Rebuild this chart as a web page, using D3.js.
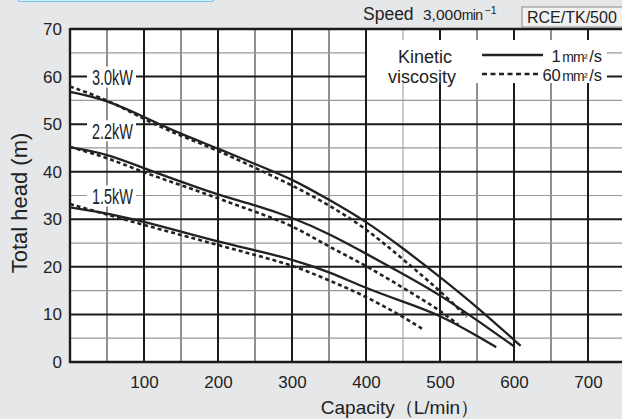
<!DOCTYPE html>
<html>
<head>
<meta charset="utf-8">
<script src="https://cdn.jsdelivr.net/npm/d3@7"></script>
<style>
body{margin:0;background:#e6e7e9}
svg{display:block}
text{font-family:"Liberation Sans",Arial,sans-serif;fill:#222}
</style>
</head>
<body>
<script>
// capacity (L/min) and total head (m)
var q30 = [0, 50, 100, 150, 200, 250, 300, 350, 400, 450, 500, 550, 609];
var h30 = [56.8, 55.1, 51.5, 47.9, 44.9, 41.6, 38.5, 34.1, 29.6, 23.9, 17.9, 11.6, 3.4];
var q30d = [0, 50, 100, 150, 200, 250, 300, 350, 400, 450, 500, 536];
var h30d = [57.9, 55.2, 51.0, 47.5, 44.5, 40.8, 37.2, 33.0, 28.1, 21.6, 15.0, 9.5];

var q22 = [0, 50, 100, 150, 200, 250, 300, 350, 400, 450, 500, 550, 601];
var h22 = [45.1, 43.8, 40.7, 37.9, 35.1, 33.0, 30.4, 27.0, 22.8, 18.5, 14.1, 8.8, 3.2];
var q22d = [0, 50, 100, 150, 200, 250, 300, 350, 400, 450, 500, 525];
var h22d = [45.2, 43.0, 39.8, 37.2, 34.4, 31.6, 28.8, 24.2, 20.3, 15.6, 10.9, 7.8];

var q15 = [0, 50, 100, 150, 200, 250, 300, 350, 400, 450, 500, 550, 576];
var h15 = [32.5, 31.3, 29.5, 27.4, 25.3, 23.5, 21.6, 19.0, 15.5, 12.7, 9.9, 5.5, 3.1];
var q15d = [0, 50, 100, 150, 200, 250, 300, 350, 400, 450, 477];
var h15d = [33.2, 31.0, 28.8, 26.7, 24.6, 22.5, 20.4, 17.2, 13.8, 9.5, 6.9];

var xTicks = [100, 200, 300, 400, 500, 600, 700];
var yTicks = [0, 10, 20, 30, 40, 50, 60, 70];
var kwLabels = [["3.0kW", 60], ["2.2kW", 48.7], ["1.5kW", 35]];
var viscLabels = [["1", 55], ["60", 74]];

var W = 622, H = 419;
var x = d3.scaleLinear().domain([0, 750]).range([70, 625]);
var y = d3.scaleLinear().domain([0, 70]).range([362, 29]);

var svg = d3.select("body").append("svg").attr("width", W).attr("height", H);

// light blue tab at the top
svg.append("rect").attr("x", 18).attr("y", -10).attr("width", 196).attr("height", 11.5)
    .attr("rx", 3).attr("fill", "#d6eefa").attr("stroke", "#6ec1ea").attr("stroke-width", 1.2);

// plot area
svg.append("rect").attr("x", x(0)).attr("y", y(70)).attr("width", x(750) - x(0)).attr("height", y(0) - y(70))
    .attr("fill", "#fff");

var g = svg.append("g");
// minor grid
d3.range(50, 750, 100).forEach(function(v) {
    g.append("line").attr("x1", x(v)).attr("x2", x(v)).attr("y1", y(70)).attr("y2", y(0))
        .attr("stroke", v == 450 ? "#999" : "#222").attr("stroke-width", 1);
});
d3.range(5, 70, 10).forEach(function(v) {
    g.append("line").attr("x1", x(0)).attr("x2", x(750)).attr("y1", y(v)).attr("y2", y(v))
        .attr("stroke", "#9a9a9a").attr("stroke-width", 1.2);
});
// major grid
d3.range(100, 750, 100).forEach(function(v) {
    g.append("line").attr("x1", x(v)).attr("x2", x(v)).attr("y1", y(70)).attr("y2", y(0))
        .attr("stroke", "#1a1a1a").attr("stroke-width", 2);
});
d3.range(10, 71, 10).forEach(function(v) {
    g.append("line").attr("x1", x(0)).attr("x2", x(750)).attr("y1", y(v)).attr("y2", y(v))
        .attr("stroke", "#1a1a1a").attr("stroke-width", v == 70 ? 2.4 : 2);
});
// frame left / bottom
svg.append("line").attr("x1", x(0)).attr("x2", x(0)).attr("y1", y(70) - 1).attr("y2", y(0) + 1)
    .attr("stroke", "#1a1a1a").attr("stroke-width", 2.4);
svg.append("line").attr("x1", x(0) - 1).attr("x2", W).attr("y1", y(0)).attr("y2", y(0))
    .attr("stroke", "#1a1a1a").attr("stroke-width", 2.4);

// axes labels
var xAxis = d3.axisBottom(x).tickValues(xTicks).tickSize(0).tickPadding(14);
svg.append("g").attr("transform", "translate(0," + y(0) + ")").call(xAxis)
    .call(function(s) { s.select(".domain").remove(); })
    .selectAll("text").attr("font-size", 17).attr("fill", "#333").style("font-family", "Liberation Sans, Arial, sans-serif");
var yAxis = d3.axisLeft(y).tickValues(yTicks).tickSize(0).tickPadding(8);
svg.append("g").attr("transform", "translate(" + x(0) + ",0)").call(yAxis)
    .call(function(s) { s.select(".domain").remove(); })
    .selectAll("text").attr("font-size", 17).attr("fill", "#333").style("font-family", "Liberation Sans, Arial, sans-serif");

svg.append("text").attr("x", 400).attr("y", 414).attr("text-anchor", "middle").attr("font-size", 19)
    .text("Capacity（L/min）");
svg.append("text").attr("transform", "translate(27,203) rotate(-90)").attr("text-anchor", "middle")
    .attr("font-size", 22).text("Total head (m)");

// curves
var line = d3.line().x(function(d) { return x(d[0]); }).y(function(d) { return y(d[1]); }).curve(d3.curveBasis);
var curves = [[q30, h30, false], [q30d, h30d, true], [q22, h22, false], [q22d, h22d, true],
              [q15, h15, false], [q15d, h15d, true]];
curves.forEach(function(c) {
    svg.append("path").datum(d3.zip(c[0], c[1])).attr("d", line)
        .attr("fill", "none").attr("stroke", "#222")
        .attr("stroke-width", c[2] ? 2.6 : 2.3)
        .attr("stroke-dasharray", c[2] ? "4,3" : null);
});

// kW labels
kwLabels.forEach(function(k) {
    var cy = y(k[1]);
    svg.append("rect").attr("x", 87).attr("y", cy - 10).attr("width", 49).attr("height", 21).attr("fill", "#fff");
    svg.append("text").attr("x", 92).attr("y", cy + 8.5).attr("font-size", 22.5)
        .attr("textLength", 41).attr("lengthAdjust", "spacingAndGlyphs").text(k[0]);
});

// legend
svg.append("rect").attr("x", 367).attr("y", 40).attr("width", 240).attr("height", 43).attr("fill", "#fff");
svg.append("text").attr("x", 425).attr("y", 62.5).attr("text-anchor", "middle").attr("font-size", 18).text("Kinetic");
svg.append("text").attr("x", 422).attr("y", 83).attr("text-anchor", "middle").attr("font-size", 18).text("viscosity");
svg.append("line").attr("x1", 482).attr("x2", 543).attr("y1", 55).attr("y2", 55).attr("stroke", "#222").attr("stroke-width", 2.6);
svg.append("line").attr("x1", 482).attr("x2", 541).attr("y1", 74).attr("y2", 74).attr("stroke", "#222").attr("stroke-width", 2.4)
    .attr("stroke-dasharray", "5,3.5");
viscLabels.forEach(function(v) {
    var t = svg.append("text").attr("x", 602).attr("y", v[1] + 6.5).attr("text-anchor", "end").attr("font-size", 16.5);
    t.append("tspan").text(v[0]);
    t.append("tspan").attr("font-size", 14).attr("letter-spacing", -0.8).attr("dx", 1.5).text("mm");
    t.append("tspan").attr("font-size", 11).text("²");
    t.append("tspan").attr("dx", 1.5).text("/s");
});

// header
svg.append("text").attr("x", 363).attr("y", 20).attr("font-size", 17.5).text("Speed");
var sp = svg.append("text").attr("x", 423).attr("y", 20).attr("font-size", 15.5);
sp.append("tspan").text("3,000");
sp.append("tspan").attr("font-size", 14).attr("letter-spacing", -0.6).text("min");
sp.append("tspan").attr("dx", 2).attr("dy", -6).attr("font-size", 10.5).text("−1");
svg.append("rect").attr("x", 522).attr("y", 7).attr("width", 104).attr("height", 20)
    .attr("fill", "#f2f2f2").attr("stroke", "#8a8a8a").attr("stroke-width", 1);
svg.append("text").attr("x", 527).attr("y", 23).attr("font-size", 16).text("RCE/TK/500");
</script>
</body>
</html>
